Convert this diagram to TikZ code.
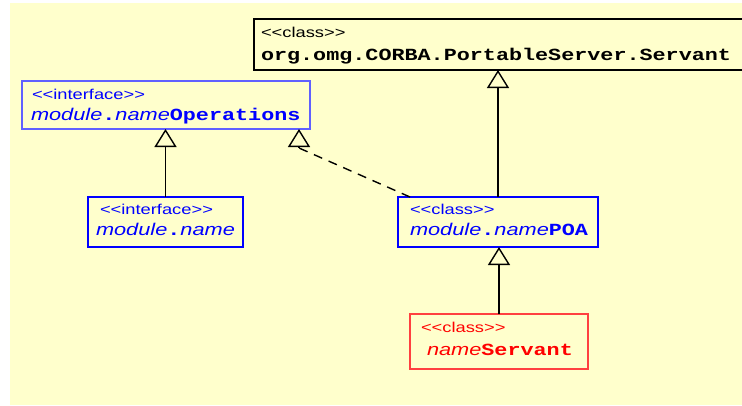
\documentclass[tikz,border=0pt]{standalone}
\usepackage{fontspec}
\usetikzlibrary{arrows.meta}
\newfontfamily\sfa[FakeStretch=1.28]{Liberation Sans}
\newfontfamily\mna[FakeStretch=1.28]{Liberation Mono}
\definecolor{bgy}{HTML}{FFFFCC}
\definecolor{umlblue}{HTML}{0000FF}
\definecolor{lightblue}{HTML}{6060FF}
\definecolor{umlred}{HTML}{FF0000}
\definecolor{lightred}{HTML}{FF4040}
\newcommand\stereo[1]{{\sfa\fontsize{14.3}{16}\selectfont <{}<#1>{}>}}
\newcommand\ualit[1]{{\sfa\itshape #1}}
\newcommand\monob[1]{{\mna\bfseries #1}}
\begin{document}
\begin{tikzpicture}[x=1pt,y=-1pt,
  box/.style={draw, rectangle, anchor=north west, inner sep=0pt, outer sep=0pt},
  txt/.style={anchor=base west, inner sep=0pt, outer sep=0pt},
  big/.style={txt, font=\fontsize{17}{20}\selectfont},
  gen/.style={line width=1.4pt, -{Triangle[open, length=18pt, width=22pt]}},
  real/.style={line width=1.4pt, dash pattern=on 9pt off 7pt}]
\clip (0,0) rectangle (742,405);
\fill[bgy] (10,3) rectangle (742,405);
% boxes
\node[box, draw=black, line width=1.6pt, minimum width=492pt, minimum height=51pt] (srv) at (254,19) {};
\node[box, draw=lightblue, line width=1.2pt, minimum width=288pt, minimum height=48pt] (ops) at (22,81) {};
\node[box, draw=umlblue, line width=1.2pt, minimum width=155pt, minimum height=50pt] (mn) at (88,197) {};
\node[box, draw=umlblue, line width=1.2pt, minimum width=200pt, minimum height=50pt] (poa) at (398,197) {};
\node[box, draw=lightred, line width=1.2pt, minimum width=178pt, minimum height=55pt] (sv) at (410,314) {};
% texts
\node[txt, text=black] (srvs) at (261,37) {\stereo{class}};
\node[big, text=black] (srvn) at (261,60) {\monob{org.omg.CORBA.PortableServer.Servant}};
\node[txt, text=umlblue] (opss) at (32,99) {\stereo{interface}};
\node[big, text=umlblue] (opsn) at (31,120) {\ualit{module}\monob{.}\ualit{name}\monob{Operations}};
\node[txt, text=umlblue] (mns) at (100,214) {\stereo{interface}};
\node[big, text=umlblue] (mnn) at (96,235) {\ualit{module}\monob{.}\ualit{name}};
\node[txt, text=umlblue] (poas) at (410,214) {\stereo{class}};
\node[big, text=umlblue] (poan) at (410,235) {\ualit{module}\monob{.}\ualit{name}\monob{POA}};
\node[txt, text=umlred] (svs) at (421,332) {\stereo{class}};
\node[big, text=umlred] (svn) at (427,355) {\ualit{name}\monob{Servant}};
% connectors
\draw[gen] (mn.north) -- (mn.north |- ops.south);
\draw[gen] (poa.north) -- (poa.north |- srv.south);
\draw[gen] (sv.north) -- (sv.north |- poa.south);
\coordinate (tip) at ([xshift=-11pt]ops.south east);
\coordinate (tb) at ([yshift=-19pt]tip);
\draw[real] ([xshift=12pt]poa.north west) -- (tb);
\draw[gen] (tb) -- (tip);
\end{tikzpicture}
\end{document}
